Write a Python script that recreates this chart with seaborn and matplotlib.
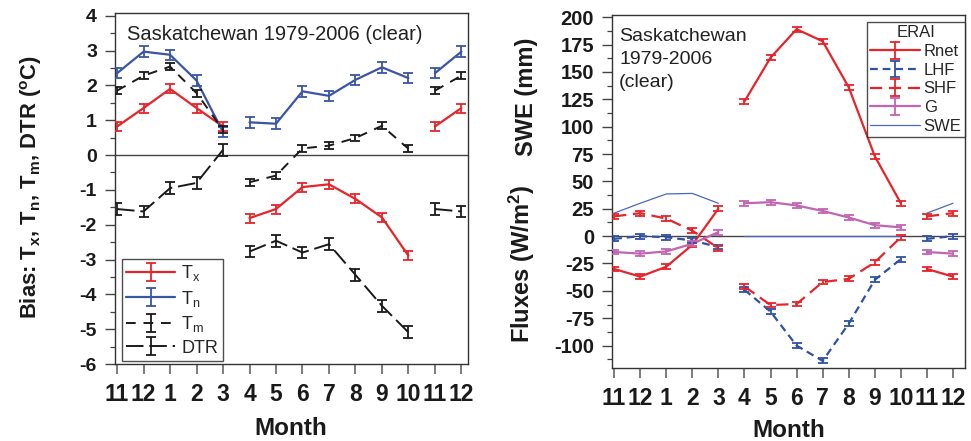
import numpy as np
import pandas as pd
import matplotlib
matplotlib.use("Agg")
import matplotlib.pyplot as plt
from matplotlib.ticker import MultipleLocator
import seaborn as sns

# ---------------- data ----------------
months = ["11", "12", "1", "2", "3", "4", "5", "6", "7", "8", "9", "10", "11", "12"]
segment = [0, 0, 0, 0, 0, 1, 1, 1, 1, 1, 1, 1, 2, 2]

# left panel: bias (deg C)
tx = [0.82, 1.35, 1.90, 1.35, 0.82, -1.81, -1.55, -0.92, -0.84, -1.26, -1.79, -2.89, 0.82, 1.35]
tn = [2.35, 2.97, 2.88, 2.14, 0.66, 0.94, 0.90, 1.83, 1.70, 2.16, 2.52, 2.21, 2.35, 2.97]
tm = [1.85, 2.28, 2.54, 1.78, 0.72, -0.78, -0.59, 0.19, 0.27, 0.49, 0.84, 0.18, 1.85, 2.28]
dtr = [-1.55, -1.62, -0.95, -0.80, 0.15, -2.77, -2.46, -2.80, -2.56, -3.44, -4.33, -5.09, -1.55, -1.62]
tx_err = 0.13
tn_err = 0.15
tm_err = 0.10
dtr_err = 0.17

# right panel: fluxes (W/m2) and SWE (mm)
rnet = [-30, -37, -28, -8, 25, 123, 163, 189, 178, 136, 73, 30, -30, -37]
lhf = [-2.5, 0, -1, -4, -10, -49, -69, -100, -114, -80, -40, -21, -2.5, 0]
shf = [18, 21, 16, 5, -11, -46, -63, -62, -42, -39, -24, -1, 18, 21]
g = [-14.5, -16, -14, -7, 3.6, 30, 31, 28, 23, 17, 10, 8, -14.5, -16]
swe = [21, 30, 38.5, 39, 30, 0, 0, 0, 0, 0, 0, 0, 21, 30]
flux_err = 2.2

RED = "#E8232A"
BLUE = "#3A55A4"
MAG = "#C165B3"
SWEC = "#4A68BE"

sns.set_theme(style="ticks")
plt.rcParams["font.family"] = ["Liberation Sans", "DejaVu Sans"]
plt.rcParams["mathtext.default"] = "regular"
plt.rcParams["axes.unicode_minus"] = False

fig = plt.figure(figsize=(9.71, 4.41), dpi=100)
ax1 = fig.add_axes([0.1184, 0.1746, 0.3636, 0.796])
ax2 = fig.add_axes([0.6303, 0.1655, 0.3635, 0.8005])

xpos = np.arange(len(months))


def draw(ax, vals, err, color, lw, ls, label, capsize=3.6):
    df = pd.DataFrame({"x": xpos, "y": vals, "seg": segment})
    sns.lineplot(data=df, x="x", y="y", units="seg", estimator=None, ax=ax,
                 color=color, lw=lw, linestyle=ls, legend=False, zorder=3)
    if err is not None:
        ax.errorbar(xpos, vals, yerr=err, fmt="none", ecolor=color, elinewidth=1.3,
                    capsize=capsize, capthick=1.3, zorder=4)
        h = ax.errorbar([np.nan], [np.nan], yerr=[1], color=color, lw=lw, ls=ls,
                        elinewidth=1.3, capsize=capsize, capthick=1.3, label=label)
    else:
        h, = ax.plot([np.nan], [np.nan], color=color, lw=lw, ls=ls, label=label)
    return h


# ---------------- left panel ----------------
ax1.axhline(0, color="#444444", lw=1.0, zorder=1)
h1 = [
    draw(ax1, tx, tx_err, RED, 1.6, "-", "T$_x$"),
    draw(ax1, tn, tn_err, BLUE, 1.6, "-", "T$_n$"),
    draw(ax1, tm, tm_err, "#1a1a1a", 1.4, (0, (5, 4)), "T$_m$"),
    draw(ax1, dtr, dtr_err, "#1a1a1a", 1.4, (0, (9, 3)), "DTR"),
]
ax1.set_ylim(-6, 4.08)
ax1.set_xlim(-0.08, 13.25)
ax1.set_yticks(range(-6, 5))
ax1.yaxis.set_minor_locator(MultipleLocator(0.5))
leg1 = ax1.legend(handles=h1, loc="lower left", bbox_to_anchor=(0.019, 0.0085),
                  borderaxespad=0, fontsize=13, frameon=True, fancybox=False,
                  edgecolor="#222222", handlelength=2.7, handletextpad=0.35,
                  labelspacing=0.3, borderpad=0.25)
leg1.get_frame().set_linewidth(1.0)
fig.text(127 / 971, 1 - 39.5 / 441, "Saskatchewan 1979-2006 (clear)",
         fontsize=14.5, va="baseline", ha="left", color="#222222")

# ---------------- right panel ----------------
ax2.axhline(0, color="#444444", lw=1.0, zorder=1)
h2 = [
    draw(ax2, rnet, flux_err, RED, 1.6, "-", "Rnet"),
    draw(ax2, lhf, flux_err, "#2F52A6", 1.6, (0, (3.5, 2.2)), "LHF"),
    draw(ax2, shf, flux_err, RED, 1.6, (0, (5.5, 3)), "SHF"),
    draw(ax2, g, flux_err, MAG, 1.6, "-", "G"),
    draw(ax2, swe, None, SWEC, 0.9, "-", "SWE"),
]
ax2.set_ylim(-120.5, 202)
ax2.set_xlim(-0.08, 13.46)
ax2.set_yticks(range(-100, 201, 25))
ax2.yaxis.set_minor_locator(MultipleLocator(12.5))
leg2 = ax2.legend(handles=h2, loc="upper right", bbox_to_anchor=(1.0, 0.98),
                  borderaxespad=0, fontsize=12, title="ERAI", title_fontsize=12,
                  frameon=True, fancybox=False, edgecolor="#222222",
                  handlelength=3.0, handletextpad=0.2, labelspacing=0.22,
                  borderpad=0.2)
leg2.get_frame().set_linewidth(1.0)
fig.text(619 / 971, 1 - 87 / 441, "Saskatchewan\n1979-2006\n(clear)",
         fontsize=14, va="baseline", ha="left", color="#222222", linespacing=1.45)

# ---------------- common styling ----------------
for ax, ysize in ((ax1, 14), (ax2, 14.5)):
    ax.set_xticks(xpos)
    ax.set_xticklabels(months)
    ax.set_xlabel("")
    ax.set_ylabel("")
    for lab in ax.get_xticklabels():
        lab.set_fontsize(16.5)
        lab.set_fontweight("bold")
    for lab in ax.get_yticklabels():
        lab.set_fontsize(ysize)
        lab.set_fontweight("bold")
    ax.tick_params(axis="x", which="major", length=7, width=1.2, direction="out",
                   color="#666666", pad=7, labelcolor="#1a1a1a")
    ax.tick_params(axis="y", which="major", length=7, width=1.0, direction="out",
                   color="#444444", pad=6, labelcolor="#1a1a1a")
    ax.tick_params(axis="y", which="minor", length=3.5, width=0.9, direction="out",
                   color="#444444")
    for sp in ax.spines.values():
        sp.set_visible(True)
        sp.set_color("#333333")
        sp.set_linewidth(1.0)
    ax.grid(False)

fig.text(291 / 971, 1 - 435 / 441, "Month", fontsize=17.5, fontweight="bold",
         ha="center", va="baseline", color="#1a1a1a")
fig.text(789 / 971, 1 - 437 / 441, "Month", fontsize=17.5, fontweight="bold",
         ha="center", va="baseline", color="#1a1a1a")
fig.text(31 / 971, 1 - 187 / 441,
         "Bias: T$_x$, T$_n$, T$_m$, DTR (${}^o$C)", rotation=90, fontsize=15.8,
         fontweight="bold", ha="center", va="center", color="#1a1a1a")
fig.text(527 / 971, 1 - 97 / 441, "SWE (mm)", rotation=90, fontsize=17,
         fontweight="bold", ha="center", va="center", color="#1a1a1a")
fig.text(522 / 971, 1 - 264 / 441, "Fluxes (W/m$^2$)", rotation=90, fontsize=17,
         fontweight="bold", ha="center", va="center", color="#1a1a1a")

fig.savefig("out.png", dpi=100)
